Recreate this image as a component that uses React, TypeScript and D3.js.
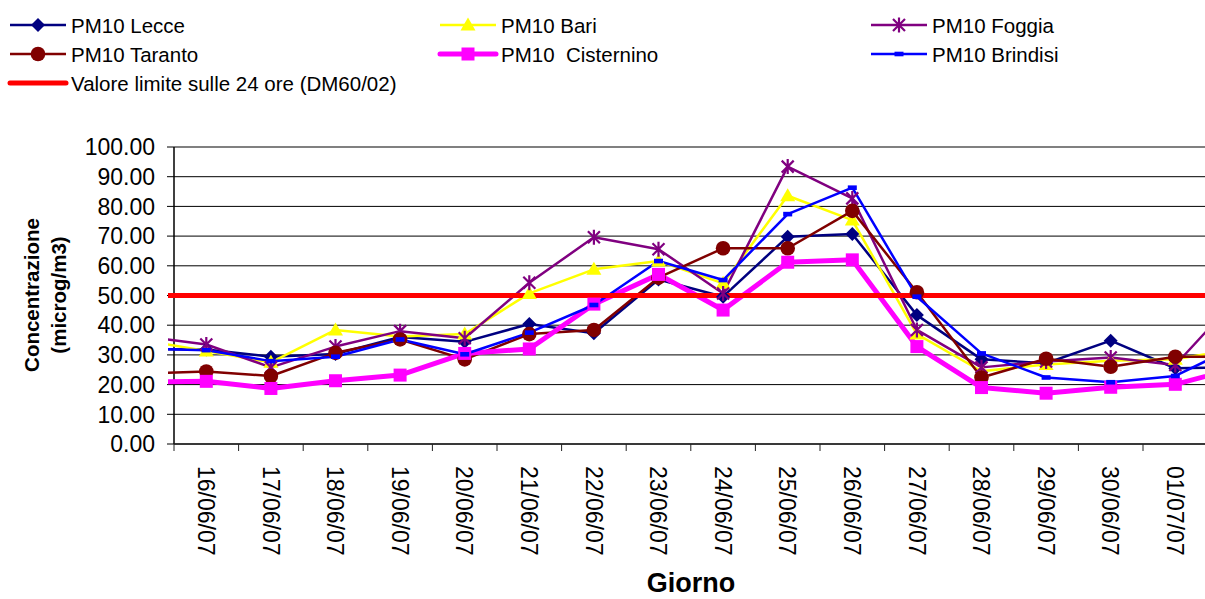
import React from "react";
import * as d3 from "d3";

// Daily PM10 concentrations; the first and last day lie just outside the visible window
const days = [
  "15/06/07", "16/06/07", "17/06/07", "18/06/07", "19/06/07", "20/06/07", "21/06/07", "22/06/07",
  "23/06/07", "24/06/07", "25/06/07", "26/06/07", "27/06/07", "28/06/07", "29/06/07", "30/06/07",
  "01/07/07", "02/07/07",
];
const lecce = [32.0, 31.8, 29.4, 30.3, 36.0, 34.4, 40.4, 37.3, 55.4, 49.6, 69.8, 70.7, 43.4, 28.5, 27.2, 34.8, 25.5, 25.9];
const bari = [35.0, 31.3, 27.5, 38.4, 36.2, 37.0, 50.7, 58.8, 61.6, 54.1, 83.6, 75.4, 37.0, 24.5, 26.8, 28.0, 28.5, 32.2];
const foggia = [36.3, 33.5, 25.8, 32.8, 38.0, 35.6, 54.3, 69.6, 65.6, 50.7, 93.4, 82.7, 38.4, 25.8, 27.8, 29.1, 26.6, 50.2];
const taranto = [23.7, 24.4, 22.9, 30.7, 35.2, 28.5, 37.0, 38.4, 56.0, 65.9, 65.9, 78.5, 51.1, 22.4, 28.7, 26.0, 29.4, 29.4];
const cisternino = [20.9, 21.1, 18.7, 21.3, 23.2, 30.5, 32.0, 47.1, 57.1, 45.1, 61.2, 62.0, 32.8, 19.0, 17.1, 19.1, 20.1, 25.8];
const brindisi = [32.1, 31.6, 27.9, 29.4, 35.2, 30.2, 37.5, 46.8, 61.6, 55.2, 77.4, 86.3, 49.6, 30.5, 22.4, 20.8, 22.9, 33.5];
const limitValue = 50;
const yTicks = [0, 10, 20, 30, 40, 50, 60, 70, 80, 90, 100];

type MarkerKind = "diamond" | "circle" | "triangle" | "square" | "star" | "dash" | "none";
interface Series {
  name: string;
  values: number[];
  color: string;
  width: number;
  marker: MarkerKind;
}

const series: Series[] = [
  { name: "PM10 Lecce", values: lecce, color: "#000080", width: 2.5, marker: "diamond" },
  { name: "PM10 Bari", values: bari, color: "#FFFF00", width: 2.5, marker: "triangle" },
  { name: "PM10 Foggia", values: foggia, color: "#800080", width: 2.5, marker: "star" },
  { name: "PM10 Taranto", values: taranto, color: "#800000", width: 2.5, marker: "circle" },
  { name: "PM10  Cisternino", values: cisternino, color: "#FF00FF", width: 5, marker: "square" },
  { name: "PM10 Brindisi", values: brindisi, color: "#0000FF", width: 2.5, marker: "dash" },
];
const limitSeries: Series = {
  name: "Valore limite sulle 24 ore (DM60/02)",
  values: days.map(() => limitValue),
  color: "#FF0000",
  width: 5,
  marker: "none",
};

const W = 1205;
const H = 599;
const plot = { left: 174, top: 147, bottom: 444, right: 1207.6 };
const font = "'Liberation Sans', Arial, Helvetica, sans-serif";

// index-based x scale: day 1 (16/06) sits half a step inside the left edge
const x = d3.scaleLinear().domain([0.5, days.length - 1.5]).range([plot.left, plot.right]);
const y = d3.scaleLinear().domain([0, 100]).range([plot.bottom, plot.top]);

const line = d3
  .line<number>()
  .x((_, i) => x(i))
  .y((v) => y(v));

function Marker({ kind, color, cx, cy }: { kind: MarkerKind; color: string; cx: number; cy: number }) {
  const t = `translate(${cx},${cy})`;
  switch (kind) {
    case "diamond":
      return <path transform={t} d="M0,-7L7,0L0,7L-7,0Z" fill={color} />;
    case "circle":
      return <circle cx={cx} cy={cy} r={7.3} fill={color} />;
    case "triangle":
      return <path transform={t} d="M0,-7.5L7.5,5.5L-7.5,5.5Z" fill={color} />;
    case "square":
      return <rect x={cx - 6.5} y={cy - 6.5} width={13} height={13} fill={color} />;
    case "star":
      return (
        <path
          transform={t}
          d="M-6,-6L6,6M-6,6L6,-6M0,-7.5L0,7.5"
          stroke={color}
          strokeWidth={2.2}
          fill="none"
        />
      );
    case "dash":
      return <rect x={cx - 4.5} y={cy - 2.3} width={9} height={4.6} fill={color} />;
    default:
      return null;
  }
}

// legend layout: three columns, three rows
const legendCols = [10, 440, 871];
const legendRows = [25, 54, 83];
const legendLineLen = 56;

export default function App() {
  const visibleDays = days.slice(1, days.length - 1);
  const boundaries = d3.range(0, visibleDays.length + 1).map((k) => k + 0.5);

  const legendItems = [...series, limitSeries].map((s, i) => ({
    s,
    col: legendCols[i % 3],
    row: legendRows[Math.floor(i / 3)],
  }));

  return (
    <svg
      width={W}
      height={H}
      style={{ position: "absolute", left: 0, top: 0, background: "#fff" }}
      fontFamily={font}
    >
      <defs>
        <clipPath id="plotClip">
          <rect x={plot.left - 6} y={0} width={W} height={H} />
        </clipPath>
      </defs>
      <rect x={0} y={0} width={W} height={H} fill="#fff" />

      {/* gridlines */}
      {yTicks.map((v) => (
        <line
          key={v}
          x1={plot.left}
          x2={plot.right}
          y1={y(v)}
          y2={y(v)}
          stroke={v === 100 ? "#808080" : "#000"}
          strokeWidth={v === 100 ? 2 : 1}
        />
      ))}

      {/* y axis */}
      <line x1={plot.left} x2={plot.left} y1={plot.top} y2={plot.bottom} stroke="#000" strokeWidth={1.5} />
      {yTicks.map((v) => (
        <g key={`yt${v}`}>
          <line x1={plot.left - 7} x2={plot.left} y1={y(v)} y2={y(v)} stroke="#000" strokeWidth={1} />
          <text x={155} y={y(v) + 8.2} textAnchor="end" fontSize={23} fill="#000">
            {v.toFixed(2)}
          </text>
        </g>
      ))}

      {/* x axis */}
      <line x1={plot.left} x2={plot.right} y1={plot.bottom} y2={plot.bottom} stroke="#222" strokeWidth={1.5} />
      {boundaries.map((b) => (
        <line key={`xt${b}`} x1={x(b)} x2={x(b)} y1={plot.bottom} y2={plot.bottom + 7} stroke="#222" strokeWidth={1} />
      ))}
      {visibleDays.map((d, k) => (
        <text
          key={d}
          transform={`translate(${x(k + 1)},466) rotate(90)`}
          dy="0.36em"
          fontSize={23}
          fill="#000"
        >
          {d}
        </text>
      ))}

      {/* axis titles */}
      <text transform="translate(39,295) rotate(-90)" textAnchor="middle" fontSize={20.5} fontWeight="bold">
        Concentrazione
      </text>
      <text transform="translate(65.7,295) rotate(-90)" textAnchor="middle" fontSize={20.5} fontWeight="bold">
        (microg/m3)
      </text>
      <text x={691} y={592} textAnchor="middle" fontSize={27} fontWeight="bold">
        Giorno
      </text>

      {/* series lines, then the limit line, then markers */}
      <g clipPath="url(#plotClip)">
        {series.map((s) => (
          <path
            key={s.name}
            d={line(s.values) ?? ""}
            fill="none"
            stroke={s.color}
            strokeWidth={s.width}
            strokeLinejoin="round"
          />
        ))}
        <path
          d={line(limitSeries.values) ?? ""}
          fill="none"
          stroke={limitSeries.color}
          strokeWidth={limitSeries.width}
        />
        {series.map((s) =>
          s.values.map((v, i) =>
            i >= 1 && i <= visibleDays.length ? (
              <Marker key={`${s.name}-${i}`} kind={s.marker} color={s.color} cx={x(i)} cy={y(v)} />
            ) : null
          )
        )}
      </g>

      {/* legend */}
      {legendItems.map(({ s, col, row }) => (
        <g key={`lg-${s.name}`}>
          <line
            x1={col}
            x2={col + legendLineLen}
            y1={row}
            y2={row}
            stroke={s.color}
            strokeWidth={s.width}
            strokeLinecap={s.marker === "none" || s.marker === "square" ? "round" : "butt"}
          />
          <Marker kind={s.marker} color={s.color} cx={col + 28} cy={row} />
          <text x={col + 61} y={row + 7.5} fontSize={20.5} fill="#000" style={{ whiteSpace: "pre" }}>
            {s.name}
          </text>
        </g>
      ))}
    </svg>
  );
}
